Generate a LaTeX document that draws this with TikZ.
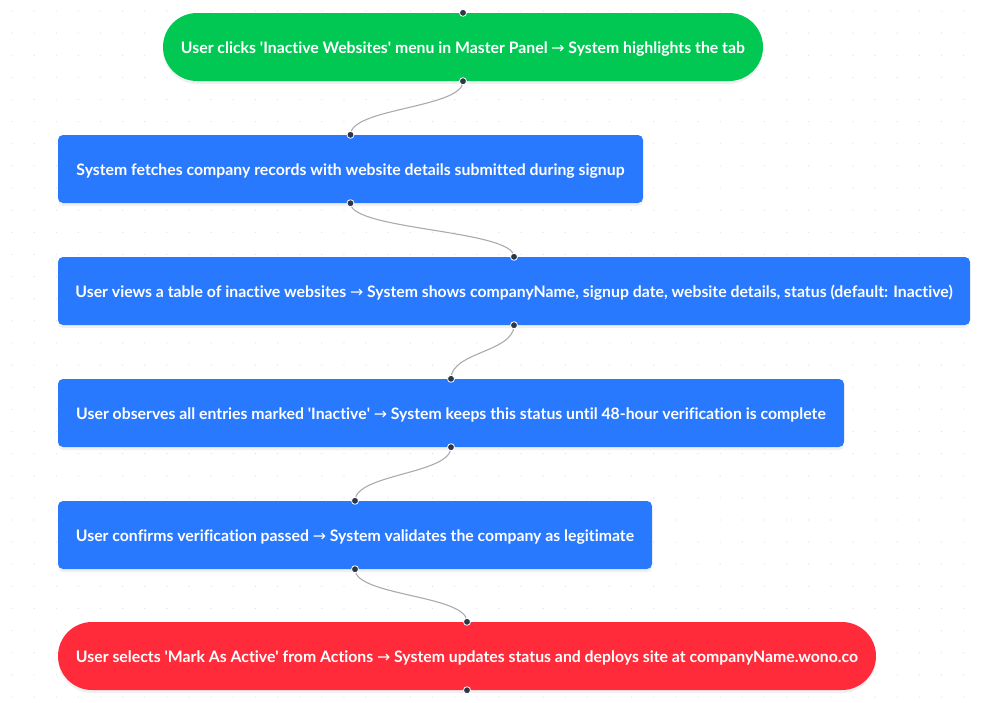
\documentclass[tikz,border=0pt]{standalone}
\usepackage{fontspec}
\setmainfont{Lato}[Ligatures=NoCommon]
\newfontfamily\arrowfont{DejaVu Sans}
\usetikzlibrary{shadows}
\definecolor{gfill}{RGB}{0,200,83}
\definecolor{bfill}{RGB}{41,121,255}
\definecolor{rfill}{RGB}{255,43,58}
\definecolor{edgec}{RGB}{170,170,178}
\definecolor{dotc}{RGB}{45,55,72}
\definecolor{gridc}{RGB}{226,226,230}
\newcommand{\ra}{{\arrowfont\mdseries →}}
\newcommand{\q}{\textquotesingle}
\tikzset{
  base/.style={text=white, font=\fontsize{15.8}{19}\selectfont\bfseries, minimum height=68pt, inner sep=0pt,
    text height=14pt, text depth=1pt,
    drop shadow={opacity=0.12, shadow xshift=0pt, shadow yshift=-3pt}},
  pill/.style={base, rounded corners=34pt},
  box/.style={base, rounded corners=5pt},
  conn/.style={draw=edgec, line width=1.1pt},
  handle/.style={circle, fill=dotc, draw=white, line width=0.8pt, inner sep=0pt, minimum size=7pt}
}
\begin{document}
\begin{tikzpicture}[x=1pt,y=-1pt]
\useasboundingbox (0,0) rectangle (985,702);
\foreach \i in {0,...,44}{\foreach \j in {0,...,31}{\fill[gridc] (12+22.13*\i, 11+22.13*\j) circle (0.7pt);}}
\node[pill, fill=gfill, minimum width=600pt] (n1) at (463,47) {User clicks \q Inactive Websites\q{} menu in Master Panel \ra{} System highlights the tab};
\node[box, fill=bfill, minimum width=585pt] (n2) at (350.5,169) {System fetches company records with website details submitted during signup};
\node[box, fill=bfill, minimum width=912pt] (n3) at (514,291) {User views a table of inactive websites \ra{} System shows companyName, signup date, website details, status (default: Inactive)};
\node[box, fill=bfill, minimum width=786pt] (n4) at (451,413) {User observes all entries marked \q Inactive\q{} \ra{} System keeps this status until 48-hour verification is complete};
\node[box, fill=bfill, minimum width=594pt] (n5) at (355,535) {User confirms verification passed \ra{} System validates the company as legitimate};
\node[pill, fill=rfill, minimum width=818pt] (n6) at (467,656) {User selects \q Mark As Active\q{} from Actions \ra{} System updates status and deploys site at companyName.wono.co};
\foreach \a/\b in {n1/n2,n2/n3,n3/n4,n4/n5,n5/n6}{
  \draw[conn] (\a.south) .. controls ([yshift=-27pt]\a.south) and ([yshift=27pt]\b.north) .. (\b.north);
}
\foreach \n in {n1,n2,n3,n4,n5,n6}{
  \node[handle] (\n t) at (\n.north) {};
  \node[handle] (\n b) at (\n.south) {};
}
\end{tikzpicture}
\end{document}
